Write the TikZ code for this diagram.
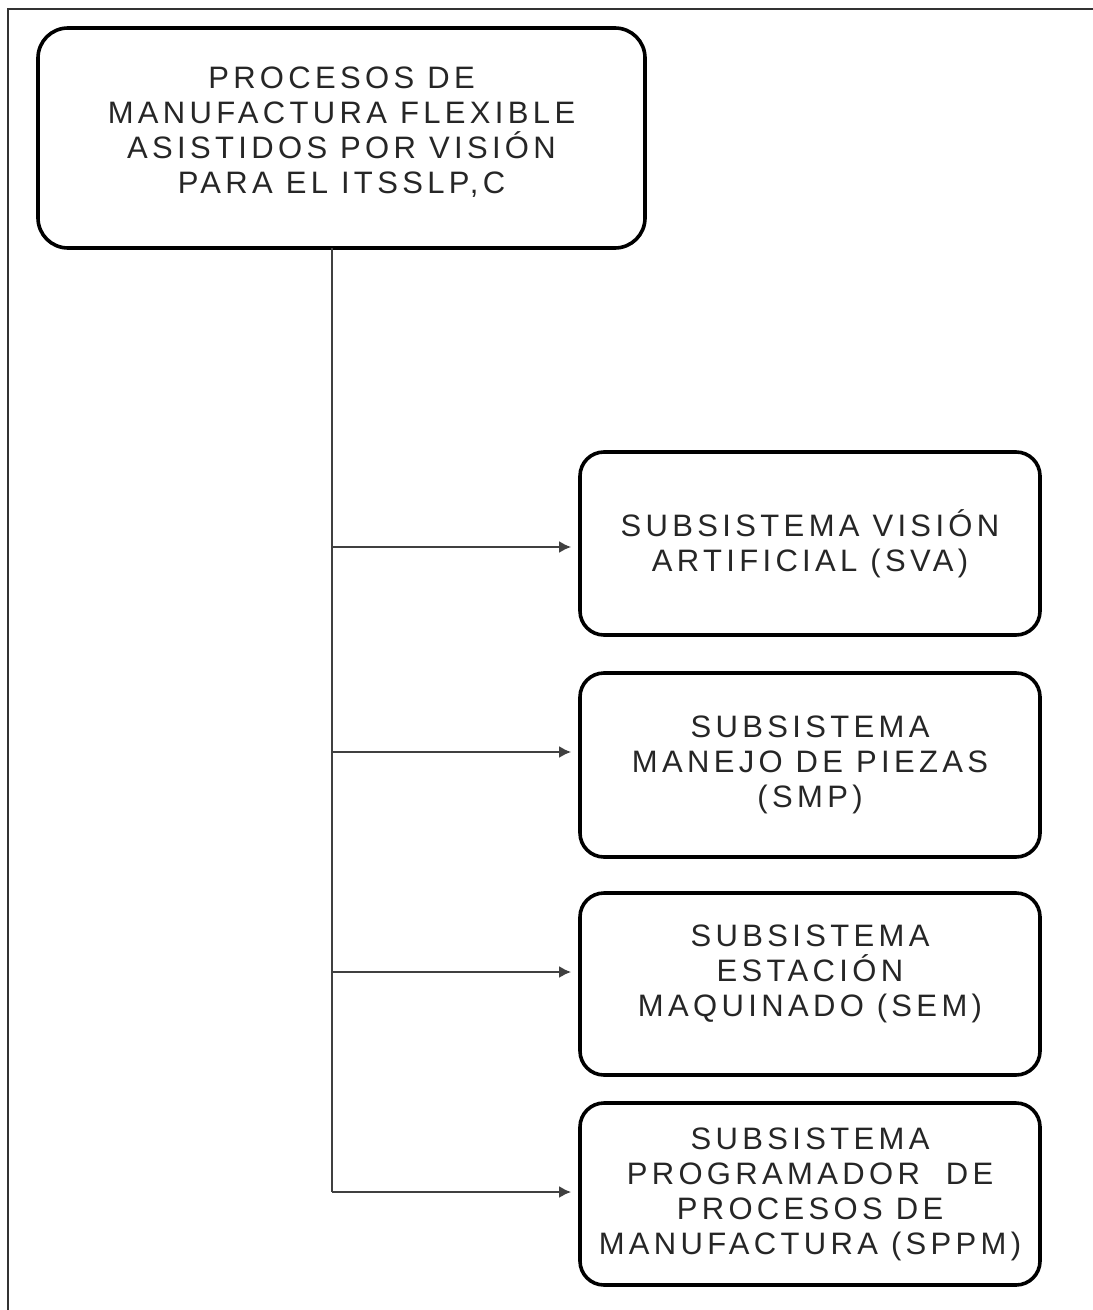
\documentclass[tikz,border=0pt]{standalone}
\usepackage{fontspec}
\newfontfamily\boxfont{Liberation Sans}[LetterSpace=14]
\usetikzlibrary{arrows.meta}
\newcommand{\lift}[1]{\vrule width 0pt height 0pt depth #1}
\tikzset{
  px/.style={x=0.5pt,y=-0.5pt},
  topbox/.style={draw=black, line width=1.8pt, rounded corners=15pt, fill=white,
    minimum width=303.5pt, minimum height=110pt, align=center, inner sep=2pt,
    font=\boxfont\fontsize{15.5pt}{17.5pt}\selectfont, text=black!85},
  subbox/.style={draw=black, line width=1.8pt, rounded corners=12pt, fill=white,
    minimum width=230pt, minimum height=91.5pt, align=center, inner sep=2pt,
    font=\boxfont\fontsize{15.5pt}{17.5pt}\selectfont, text=black!85},
  link/.style={draw=black!75, line width=1.3pt},
  arrowlink/.style={link, -{Latex[length=6pt,width=6pt]}, shorten >=3.5pt},
  frameline/.style={draw=black!80, line width=1.1pt}
}
\begin{document}
\begin{tikzpicture}[px]
\useasboundingbox (0,0) rectangle (1092,1310);
\fill[white] (0,0) rectangle (1092,1310);
% outer frame (only top and left edges visible)
\coordinate (fbl) at (8,1312);
\coordinate (ftl) at (8,9);
\coordinate (ftr) at (1094,9);
\draw[frameline] (fbl) -- (ftl) -- (ftr);

\node[topbox] (top) at (341.5,138) {PROCESOS DE\\MANUFACTURA FLEXIBLE\\ASISTIDOS POR VISIÓN\\PARA EL ITSSLP,C\lift{8pt}};

\node[subbox] (b1) at (810,543.5) {SUBSISTEMA VISIÓN\\ARTIFICIAL (SVA)};
\node[subbox, minimum height=92pt] (b2) at (810,765) {SUBSISTEMA\\MANEJO DE PIEZAS\\(SMP)};
\node[subbox, minimum height=91pt] (b3) at (810,984) {SUBSISTEMA\\ESTACIÓN\\MAQUINADO (SEM)\lift{13pt}};
\node[subbox, minimum height=91pt] (b4) at (810,1194) {SUBSISTEMA\\PROGRAMADOR\ \ DE\\PROCESOS DE\\MANUFACTURA (SPPM)\lift{3pt}};

\coordinate (v0) at (332,248);
\coordinate (j1) at (332,547);
\coordinate (j2) at (332,752);
\coordinate (j3) at (332,972);
\coordinate (j4) at (332,1192);

\draw[link] (v0) -- (j4);
\draw[arrowlink] (j1) -- (j1 -| b1.west);
\draw[arrowlink] (j2) -- (j2 -| b2.west);
\draw[arrowlink] (j3) -- (j3 -| b3.west);
\draw[arrowlink] (j4) -- (j4 -| b4.west);
\end{tikzpicture}
\end{document}
